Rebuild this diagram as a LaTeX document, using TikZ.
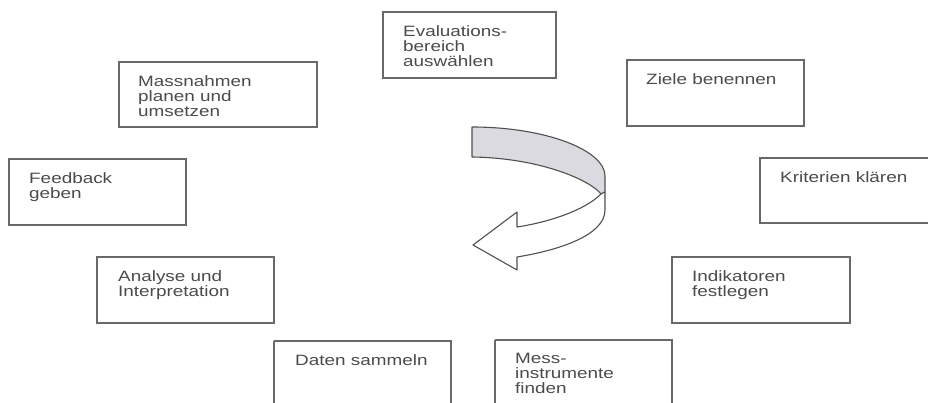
\documentclass[tikz,border=0pt]{standalone}
\usepackage{fontspec}
\setmainfont{Liberation Sans}[FakeStretch=1.26]
\begin{document}
\begin{tikzpicture}[x=1pt,y=-1pt,
  stepbox/.style={draw={rgb,255:red,105;green,105;blue,105},line width=1.3pt},
  steptext/.style={anchor=north west,inner sep=0pt,align=left,
     text={rgb,255:red,75;green,75;blue,75},
     font=\fontsize{15}{15}\selectfont},
  arrowline/.style={draw={rgb,255:red,80;green,80;blue,80},line width=1.1pt,line join=round}]
\useasboundingbox (0,0) rectangle (928,403);
\fill[white] (0,0) rectangle (928,403);
% boxes
\draw[stepbox] (383,12) rectangle (556,78);
\node[steptext] (eval) at (403,12+13) {Evaluations-\\bereich\\auswählen};
\draw[stepbox] (627,60) rectangle (804,126);
\node[steptext] (ziele) at (646,60+13) {Ziele benennen};
\draw[stepbox] (760,158) rectangle (935,223);
\node[steptext] (krit) at (780,158+13) {Kriterien klären};
\draw[stepbox] (672,257) rectangle (850,323);
\node[steptext] (ind) at (692,257+13) {Indikatoren\\festlegen};
\draw[stepbox] (495,340) -- (672,340) -- (672,410) (495,340) -- (495,410);
\node[steptext] (mess) at (515,340+13) {Mess-\\instrumente\\finden};
\draw[stepbox] (274,341) -- (451,341) -- (451,410) (274,341) -- (274,410);
\node[steptext] (daten) at (295,341+13) {Daten sammeln};
\draw[stepbox] (97,257) rectangle (274,323);
\node[steptext] (ana) at (118,257+13) {Analyse und\\Interpretation};
\draw[stepbox] (9,159) rectangle (186,225);
\node[steptext] (feed) at (29,159+13) {Feedback\\geben};
\draw[stepbox] (119,62) rectangle (317,127);
\node[steptext] (mass) at (138,62+13) {Massnahmen\\planen und\\umsetzen};
% curved arrow: shaded band
\coordinate (A) at (472,127);
\coordinate (B) at (605,176);
\coordinate (Bb) at (605,192);
\coordinate (C) at (601,194);
\coordinate (D) at (472,157);
\coordinate (E) at (517,227);
\coordinate (F) at (517,212);
\coordinate (G) at (473,245);
\coordinate (H) at (517,270);
\coordinate (I) at (517,257);
\coordinate (J) at (605,210);
\draw[arrowline,fill={rgb,255:red,218;green,218;blue,224}]
  (A) .. controls (545,127) and (605,150) .. (B) -- (Bb) -- (C)
  .. controls (590,180) and (540,158) .. (D) -- cycle;
\draw[arrowline,fill=white]
  (C) .. controls (585,210) and (550,222) .. (E) -- (F) -- (G) -- (H) -- (I)
  .. controls (560,250) and (605,235) .. (J) -- (Bb) -- cycle;
\end{tikzpicture}
\end{document}
